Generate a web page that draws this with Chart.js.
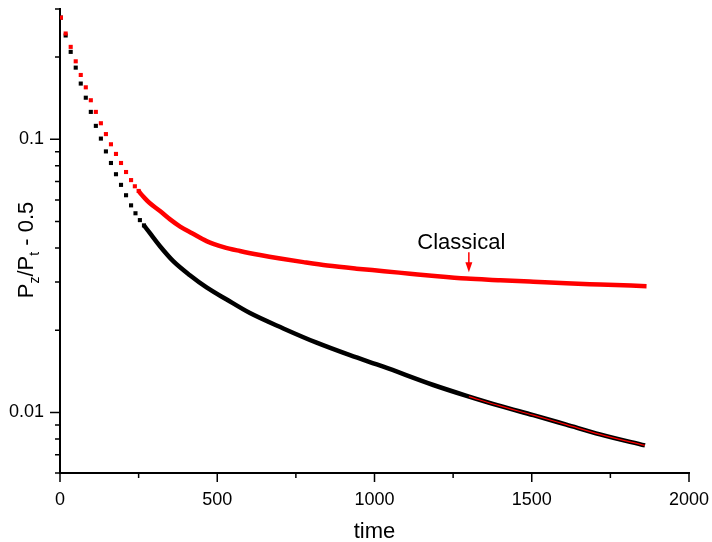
<!DOCTYPE html>
<html>
<head>
<meta charset="utf-8">
<script src="https://cdn.jsdelivr.net/npm/chart.js@4.4.0/dist/chart.umd.min.js"></script>
<style>
  html, body { margin: 0; padding: 0; background: #fff; }
</style>
</head>
<body>
<canvas id="chart" width="712" height="542"></canvas>
<script>
const FONT = '"Liberation Sans", Arial, sans-serif';

// early samples, still separated -> drawn as square markers
const classicalDotTime  = [3, 18, 34, 50, 66, 82, 98, 114, 130, 146, 162, 178, 194, 210, 226, 238, 250];
const classicalDotValue = [0.279, 0.244, 0.218, 0.193, 0.172, 0.155, 0.139, 0.126, 0.1145, 0.1045, 0.0959, 0.0884, 0.0819, 0.0759, 0.0709, 0.0673, 0.0647];
const otherDotTime  = [3, 18, 34, 50, 66, 82, 98, 114, 130, 146, 162, 178, 194, 210, 226, 240, 254, 267];
const otherDotValue = [0.279, 0.240, 0.209, 0.183, 0.160, 0.142, 0.126, 0.112, 0.1006, 0.0903, 0.0819, 0.0745, 0.0681, 0.0624, 0.0573, 0.0536, 0.0506, 0.0484];

// later samples overlap into a solid band
const classicalCurveTime  = [250, 260, 270, 286, 318, 350, 382, 420, 466, 520, 572, 636, 700, 774, 850, 943, 1030, 1113, 1200, 1293, 1400, 1505, 1610, 1717, 1865];
const classicalCurveValue = [0.0647, 0.0626, 0.0608, 0.0583, 0.0546, 0.0509, 0.0479, 0.0453, 0.0424, 0.0403, 0.0390, 0.0377, 0.0366, 0.0355, 0.0345, 0.0336, 0.0329, 0.0322, 0.0315, 0.0309, 0.0305, 0.0301, 0.0297, 0.0294, 0.0290];
const otherCurveTime  = [267, 286, 318, 360, 413, 466, 530, 604, 710, 816, 922, 1028, 1187, 1293, 1399, 1505, 1610, 1717, 1860];
const otherCurveValue = [0.0484, 0.0453, 0.0406, 0.0358, 0.0318, 0.0287, 0.0259, 0.0231, 0.0203, 0.0180, 0.0162, 0.0147, 0.0126, 0.0115, 0.01056, 0.00977, 0.00902, 0.00831, 0.00757];

// thin red line over the black tail
const fitTime  = [1300, 1399, 1505, 1610, 1717, 1860];
const fitValue = [0.01143, 0.01056, 0.00977, 0.00902, 0.00831, 0.00757];

const xTickValues = [0, 250, 500, 750, 1000, 1250, 1500, 1750, 2000];
const yTickValues = [0.006, 0.007, 0.008, 0.009, 0.01, 0.02, 0.03, 0.04, 0.05, 0.06, 0.07, 0.08, 0.09, 0.1, 0.2, 0.3];
const yMajorTicks = [0.01, 0.1];

const arrowTime = 1300, arrowValue = 0.0326;

const pts = (xs, ys) => xs.map((x, i) => ({ x: x, y: ys[i] }));

function dots(data, color) {
  return { data: data, showLine: false, pointStyle: 'rect', pointRadius: 2.9,
           backgroundColor: color, borderWidth: 0, pointHoverRadius: 0 };
}
function band(data, color, w) {
  return { data: data, showLine: true, pointRadius: 0, borderColor: color,
           borderWidth: w, borderJoinStyle: 'round', cubicInterpolationMode: 'monotone' };
}

// custom ticks (major/minor lengths), titles and the "Classical" note
const decor = {
  id: 'decor',
  afterDraw(chart) {
    const { ctx, chartArea: a, scales: { x, y } } = chart;
    ctx.save();
    ctx.strokeStyle = '#000';
    ctx.lineWidth = 1.5;
    ctx.beginPath();
    xTickValues.forEach(v => {
      const px = x.getPixelForValue(v);
      ctx.moveTo(px, a.bottom);
      ctx.lineTo(px, a.bottom + (v % 500 === 0 ? 9 : 5));
    });
    yTickValues.forEach(v => {
      const py = y.getPixelForValue(v);
      ctx.moveTo(a.left, py);
      ctx.lineTo(a.left - (yMajorTicks.includes(v) ? 10 : 5), py);
    });
    ctx.stroke();

    ctx.fillStyle = '#000';
    ctx.textBaseline = 'alphabetic';
    ctx.textAlign = 'center';
    ctx.font = '22px ' + FONT;
    ctx.fillText('time', (a.left + a.right) / 2, 538);

    // y title with subscripts
    ctx.save();
    ctx.translate(33, 250);
    ctx.rotate(-Math.PI / 2);
    ctx.textAlign = 'left';
    const parts = [['P', 0], ['z', 1], ['/P', 0], ['t', 1], [' - 0.5', 0]];
    const big = '22px ' + FONT, small = '14px ' + FONT;
    let total = 0;
    parts.forEach(p => { ctx.font = p[1] ? small : big; total += ctx.measureText(p[0]).width; });
    let cx = -total / 2;
    parts.forEach(p => {
      ctx.font = p[1] ? small : big;
      ctx.fillText(p[0], cx, p[1] ? 6 : 0);
      cx += ctx.measureText(p[0]).width;
    });
    ctx.restore();

    // annotation
    const tx = x.getPixelForValue(arrowTime), ty = y.getPixelForValue(arrowValue);
    ctx.font = '22px ' + FONT;
    ctx.textAlign = 'center';
    ctx.fillText('Classical', tx - 7.5, ty - 23);
    ctx.strokeStyle = '#ff0000';
    ctx.fillStyle = '#ff0000';
    ctx.lineWidth = 1.5;
    ctx.beginPath();
    ctx.moveTo(tx, ty - 20);
    ctx.lineTo(tx, ty - 9);
    ctx.stroke();
    ctx.beginPath();
    ctx.moveTo(tx - 3.5, ty - 10);
    ctx.lineTo(tx + 3.5, ty - 10);
    ctx.lineTo(tx, ty);
    ctx.closePath();
    ctx.fill();
    ctx.restore();
  }
};

new Chart(document.getElementById('chart'), {
  type: 'scatter',
  data: {
    datasets: [
      band(pts(fitTime, fitValue), '#ff0000', 1.2),
      dots(pts(classicalDotTime, classicalDotValue), '#ff0000'),
      band(pts(classicalCurveTime, classicalCurveValue), '#ff0000', 4.5),
      dots(pts(otherDotTime, otherDotValue), '#000000'),
      band(pts(otherCurveTime, otherCurveValue), '#000000', 4.5)
    ]
  },
  options: {
    responsive: false,
    animation: false,
    layout: { padding: { top: 9, right: 23, left: 0, bottom: 0 } },
    plugins: { legend: { display: false }, tooltip: { enabled: false } },
    scales: {
      x: {
        type: 'linear', min: 0, max: 2000,
        afterFit: s => { s.height = 69; s.paddingLeft = 0; s.paddingRight = 0; },
        afterBuildTicks: s => { s.ticks = xTickValues.map(v => ({ value: v })); },
        ticks: {
          autoSkip: false, maxRotation: 0, padding: 7, color: '#000',
          font: { family: FONT, size: 18 },
          callback: v => (v % 500 === 0 ? String(v) : '')
        },
        grid: { drawOnChartArea: false, color: 'rgba(0,0,0,0)', tickLength: 9 },
        border: { color: '#000', width: 2 }
      },
      y: {
        type: 'logarithmic', min: 0.006, max: 0.3,
        afterFit: s => { s.width = 60; s.paddingTop = 0; s.paddingBottom = 0; },
        afterBuildTicks: s => { s.ticks = yTickValues.map(v => ({ value: v })); },
        ticks: {
          autoSkip: false, padding: 6, color: '#000',
          font: { family: FONT, size: 18 },
          callback: v => (v === 0.01 ? '0.01' : v === 0.1 ? '0.1' : '')
        },
        grid: { drawOnChartArea: false, color: 'rgba(0,0,0,0)', tickLength: 10 },
        border: { color: '#000', width: 2 }
      }
    }
  },
  plugins: [decor]
});
</script>
</body>
</html>
